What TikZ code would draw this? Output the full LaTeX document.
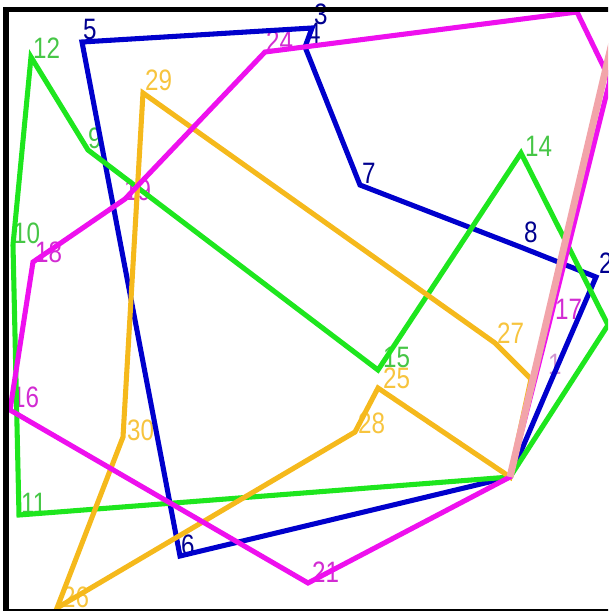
\documentclass[tikz,border=0pt]{standalone}
\usepackage{fontspec}
\setsansfont{Liberation Sans}
\definecolor{cBlue}{HTML}{0000CC}
\definecolor{cGreen}{HTML}{1EE61E}
\definecolor{cMag}{HTML}{EE10EE}
\definecolor{cYel}{HTML}{F5B91C}
\definecolor{cPink}{HTML}{F2A4AA}

\begin{document}
\begin{tikzpicture}[
    x=0.025cm, y=-0.025cm,
    poly/.style={line width=3.6pt},
    blu/.style={poly, draw=cBlue},
    grn/.style={poly, draw=cGreen},
    mag/.style={poly, draw=cMag},
    yel/.style={poly, draw=cYel},
    pnk/.style={line width=5pt, draw=cPink},
    frame/.style={draw=black, line width=3.9pt},
    num/.style={font=\sffamily\fontsize{21}{21}\selectfont, inner sep=0pt,
                anchor=base west, xscale=0.82},
]
\useasboundingbox (0,0) rectangle (608,611);
\clip (0,0) rectangle (608,611);

% ===================== Vertices =====================
\coordinate (c) at (510,477);
\foreach \n/\x/\y in {5/82/42,3/312/28,4/305/47,7/360/185,8/523/248,2/596/277,1/548/388,6/180/556}
    \coordinate (b\n) at (\x,\y);
\foreach \n/\x/\y in {12/31/57,9/88/150,15/378/370,14/521/153,13/608/325,11/19/515,10/13/245}
    \coordinate (g\n) at (\x,\y);
\foreach \n/\x/\y in {24/265/52,23/577/12,22/610/80,17/551/316,21/308/583,16/10/410,18/33/262,19/125/199}
    \coordinate (m\n) at (\x,\y);
\foreach \n/\x/\y in {29/143/93,27/495/343,h/531/379,25/378/388,28/355/432,26/57/608,30/123/437}
    \coordinate (y\n) at (\x,\y);
\coordinate (pk) at (622,0);

% ===================== Labels =====================
\foreach \n/\x/\y in {5/83/40,3/314/25,4/307/44,7/362/183,8/524/242,2/599/273,6/181/555}
    \node[num, text=cBlue!70!black] (lb\n) at (\x,\y) {\n};
\node[num, text=cMag!45!gray!60!white] (lb1) at (548,374) {1};
\foreach \n/\x/\y in {12/33/59,9/88/148,15/383/367,14/525/156,10/13/243,11/21/513}
    \node[num, text=cGreen!80!black!80!white] (lg\n) at (\x,\y) {\n};
\foreach \n/\x/\y in {24/266/52,19/124/200,18/35/262,16/12/407,21/312/582,17/555/319}
    \node[num, text=cMag!75!gray] (lm\n) at (\x,\y) {\n};
\foreach \n/\x/\y in {29/145/91,27/497/343,25/383/388,28/358/433,30/127/440,26/62/607}
    \node[num, text=cYel!85!white] (ly\n) at (\x,\y) {\n};

% ===================== Polygons =====================
\draw[blu] (b5) -- (b3) -- (b4) -- (b7) -- (b8) -- (b2) -- (b1) -- (c) -- (b6) -- cycle;
\draw[grn] (g12) -- (g9) -- (g15) -- (g14) -- (g13) -- (c) -- (g11) -- (g10) -- cycle;
\draw[yel] (y29) -- (y27) -- (yh) -- (c) -- (y25) -- (y28) -- (y26) -- (y30) -- cycle;
\draw[mag] (m24) -- (m23) -- (m22) -- (m17) -- (c) -- (m21) -- (m16) -- (m18) -- (m19) -- cycle;
\draw[pnk] (c) -- (pk);

% ===================== Frame =====================
\draw[frame] (6,9.5) rectangle (700,612);
\end{tikzpicture}
\end{document}
